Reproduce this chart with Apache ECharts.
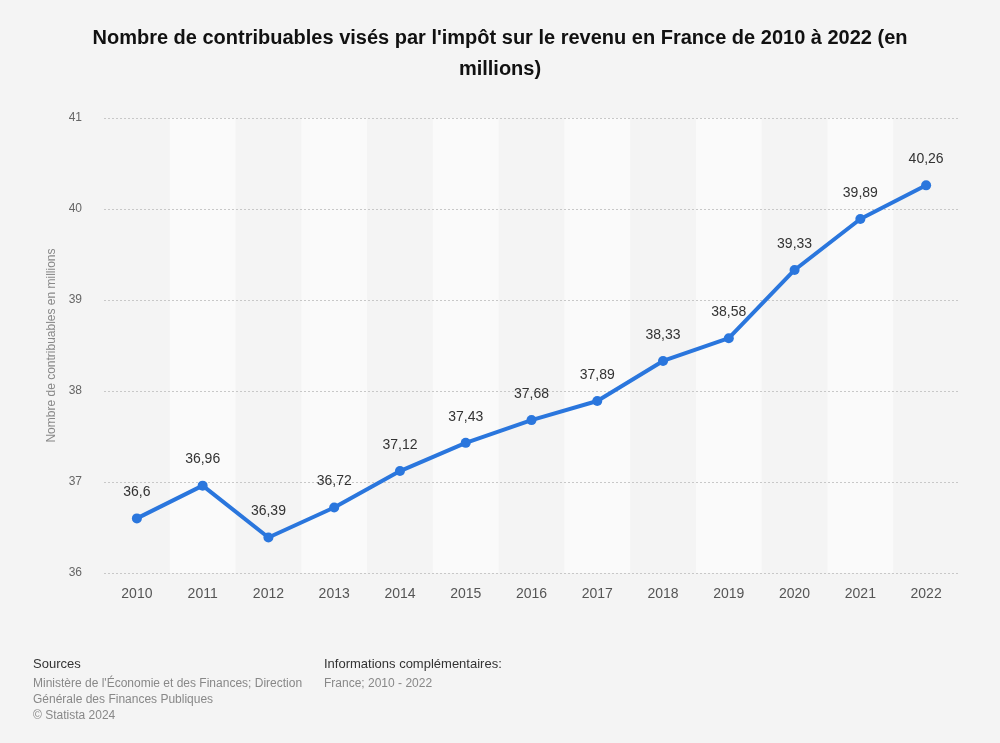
<!DOCTYPE html>
<html><head><meta charset="utf-8">
<script src="https://cdn.jsdelivr.net/npm/echarts@6/dist/echarts.min.js"></script>
<style>html,body{margin:0;padding:0;background:#f4f4f4;}#c{width:1000px;height:743px;}</style>
</head><body><div id="c"></div>
<script>
const years = ['2010','2011','2012','2013','2014','2015','2016','2017','2018','2019','2020','2021','2022'];
const values = [36.6,36.96,36.39,36.72,37.12,37.43,37.68,37.89,38.33,38.58,39.33,39.89,40.26];
const yTicks = [36,37,38,39,40,41];

const chart = echarts.init(document.getElementById('c'), null, {renderer:'canvas'});
chart.setOption({
  backgroundColor:'#f4f4f4',
  animation:false,
  title:{
    text:"Nombre de contribuables visés par l'impôt sur le revenu en France de 2010 à 2022 (en\nmillions)",
    left:'center', top:18,
    textStyle:{fontFamily:'Liberation Sans, Arial', fontSize:20, fontWeight:'bold', color:'#111', lineHeight:31}
  },
  grid:{left:104, right:41, top:118, bottom:170},
  xAxis:{
    type:'category', data:years, boundaryGap:true, z:0,
    axisLine:{show:false}, axisTick:{show:false},
    axisLabel:{color:'#555', fontSize:14, fontFamily:'Liberation Sans, Arial', margin:14},
    splitArea:{show:true, areaStyle:{color:['rgba(0,0,0,0)','#fafafa']}}
  },
  yAxis:{
    type:'value', min:36, max:41, interval:1, z:3,
    name:'Nombre de contribuables en millions', nameLocation:'middle', nameGap:45,
    nameTextStyle:{color:'#888', fontSize:12, fontFamily:'Liberation Sans, Arial'},
    axisLine:{show:false}, axisTick:{show:false},
    axisLabel:{color:'#666', fontSize:12, fontFamily:'Liberation Sans, Arial', margin:22,
      formatter:v=>yTicks.includes(v)?String(v):''},
    splitLine:{lineStyle:{color:'#c8c8c8', type:[2,2], width:1}}
  },
  series:[{
    type:'line', data:values, z:5,
    lineStyle:{color:'#2a76dd', width:4},
    itemStyle:{color:'#2a76dd'},
    symbol:'circle', symbolSize:10,
    label:{show:true, position:'top', distance:14, color:'#333', fontSize:14, fontFamily:'Liberation Sans, Arial',
      formatter:p=>String(p.value).replace('.',',')}
  }],
  graphic:[
    {type:'text', left:33, top:658, style:{text:'Sources', fill:'#333', font:'13px Liberation Sans, Arial'}},
    {type:'text', left:33, top:676, style:{text:"Ministère de l'Économie et des Finances; Direction\nGénérale des Finances Publiques\n© Statista 2024", fill:'#888', font:'12px Liberation Sans, Arial', lineHeight:16}},
    {type:'text', left:324, top:658, style:{text:'Informations complémentaires:', fill:'#333', font:'13px Liberation Sans, Arial'}},
    {type:'text', left:324, top:676, style:{text:'France; 2010 - 2022', fill:'#888', font:'12px Liberation Sans, Arial', lineHeight:16}}
  ]
});
</script></body></html>
